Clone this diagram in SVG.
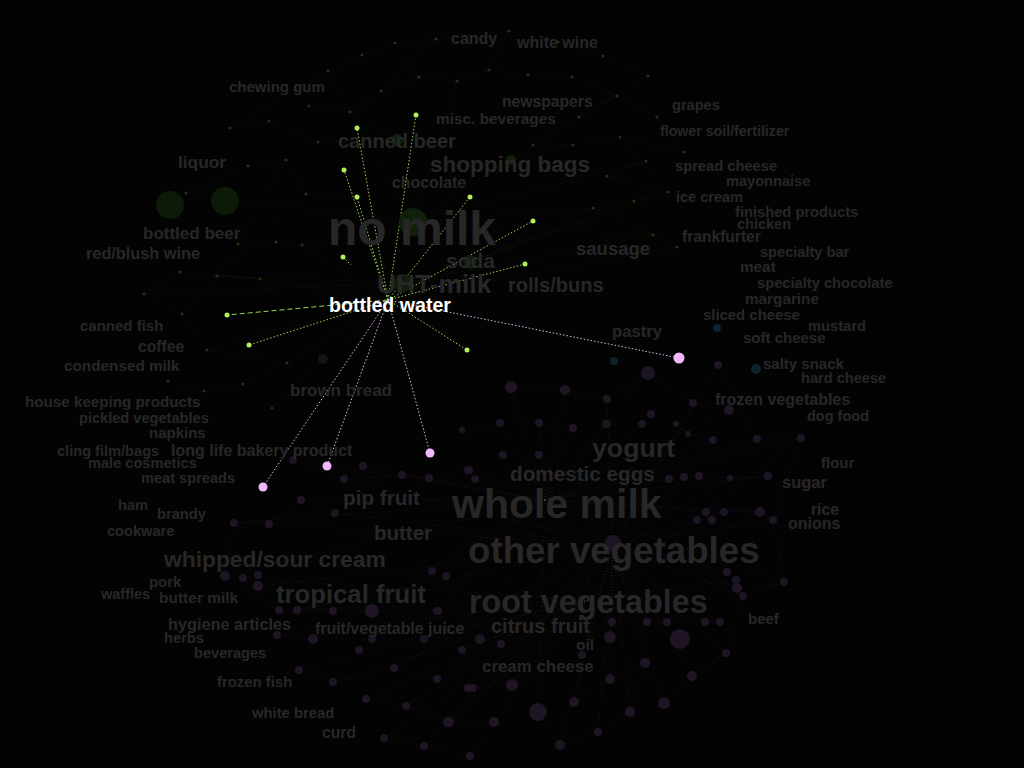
<svg xmlns="http://www.w3.org/2000/svg" width="1024" height="768" viewBox="0 0 1024 768">
<style>
.l{font-family:"Liberation Sans",Arial,sans-serif;font-weight:bold;fill:#272727}
.w{font-family:"Liberation Sans",Arial,sans-serif;font-weight:bold;fill:#ffffff}
.fg{stroke:#3f6a1e;stroke-width:0.6;stroke-dasharray:1 2;opacity:0.3;fill:none}
.fp{stroke:#6e4874;stroke-width:0.6;stroke-dasharray:1 2;opacity:0.3;fill:none}
.hg{stroke:#9cd456;stroke-width:1;stroke-dasharray:1.5 2;fill:none}
.hp{stroke:#e2b4ee;stroke-width:1;stroke-dasharray:1.5 2;fill:none}
.dg{fill:#1f3510}
.dp{fill:#1f1424}
.db{fill:#0c232b}
.bg{fill:#b2f05a}
.bp{fill:#f2b8fb}
</style>
<rect width="1024" height="768" fill="#030303"/>
<g id="connectors">
<g id="faint-green">
<path class="fg" d="M395,43L436,39L509,31L558,42L603,56L648,76M362,55L395,43L419,77L457,81L489,70L509,31M328,71L362,55M489,70L528,75L572,77L617,96L657,117M381,91L419,77M309,106L350,112L397,140L413,222M230,128L269,121L318,142L397,140M248,166L286,160L306,194L357,197M186,193L248,166M579,117L533,145L573,145L620,137L684,152M646,161L607,176L668,192L634,201L593,208L653,235L677,247M511,160L573,145M238,244L276,242L302,245L388,300M217,276L260,279L180,272L144,294L182,314L207,350L287,363M168,381L204,391L243,384L272,408L388,300M413,222L511,160M413,222L593,208M413,222L302,245M413,222L186,193M413,222L457,81M413,222L328,71M413,222L646,161M413,222L653,235M388,300L260,279M388,300L207,350M388,300L593,208M388,300L677,247M328,71L230,128M286,160L217,276M350,112L381,91M617,96L579,117L511,160M419,77L350,112M657,117L684,152M306,194L182,314M620,137L668,192M243,384L287,363L388,300M470,262L634,201M470,262L668,192M403,283L653,235M403,283L217,276M403,283L144,294M436,39L381,91M648,76L579,117"/>
</g>
<g id="faint-pink">
<path class="fp" d="M545,500L500,423M545,500L539,423M545,500L573,428M545,500L462,430M545,500L607,424M545,500L642,424M545,500L713,440M545,500L757,439M545,500L801,438M545,500L468,470M545,500L669,479M545,500L768,476M545,500L706,512M545,500L760,512M545,500L446,576M545,500L737,588M545,500L784,582M545,500L612,622M545,500L680,639M545,500L480,639M545,500L538,712M545,500L437,611M545,500L293,460M545,500L363,466M545,500L402,475M545,500L301,500M545,500L234,523M545,500L225,576M545,500L372,611M545,500L313,639M545,500L648,373M545,500L511,387M545,500L729,410M545,500L565,390"/>
<path class="fp" d="M613,545L503,455M613,545L539,455M613,545L475,479M613,545L684,477M613,545L699,476M613,545L730,478M613,545L724,512M613,545L773,520M613,545L727,572M613,545L743,596M613,545L647,622M613,545L705,622M613,545L610,637M613,545L501,644M613,545L582,655M613,545L645,663M613,545L726,653M613,545L692,676M613,545L610,679M613,545L512,685M613,545L574,702M613,545L630,712M613,545L664,703M613,545L494,722M613,545L598,732M613,545L560,745M613,545L344,479M613,545L335,513M613,545L269,524M613,545L258,586M613,545L297,610M613,545L424,639M613,545L394,668M613,545L449,722M613,545L693,403M613,545L607,399M613,545L718,365"/>
<path class="fp" d="M588,600L462,650M588,600L473,688M588,600L437,679M588,600L448,722M588,600L359,650M588,600L333,682M588,600L366,699M588,600L406,706M588,600L384,738M588,600L424,746M588,600L470,756M588,600L299,670M588,600L277,635M588,600L279,610M588,600L243,578M588,600L736,580M588,600L667,622M588,600L720,622M588,600L801,438M588,600L760,512"/>
<path class="fp" d="M293,460L344,479L402,475L429,478L469,470M301,500L335,513M234,523L269,524L301,500M225,576L243,578L258,575L258,586M279,610L297,610L333,611L372,611L438,611M277,635L313,639L372,639L424,639M299,670L333,682L394,668L437,679M366,699L406,706L449,722L494,722M384,738L424,746L470,756M607,399L648,373L693,403L729,410M606,424L642,424L676,424L688,434L713,440M757,439L801,438M669,479L684,477L699,476L730,478L768,476M706,512L724,512L760,512L773,520M727,572L736,580L737,588L743,596L784,582M612,622L647,622L667,622L705,622L720,622M692,676L726,653M574,702L610,679L645,663L630,712L598,732L560,745L538,712M801,438L773,520L784,582L743,596L726,653L692,676L664,703M234,523L225,576L279,610M512,685L473,688M462,430L500,423L539,423L573,428M511,387L565,390L607,399M718,365L757,439"/>
</g>
<g id="highlight">
<path class="hg" d="M388,300L357,128M388,300L416,115M388,300L344,170M388,300L357,197M388,300L470,197M388,300L533,221M388,300L525,264M388,300L249,345M388,300L467,350M343,257L351,265"/>
<path class="hg" d="M388,300L227,315" style="stroke-dasharray:5 3"/>
<path class="hp" d="M388,300L679,358M388,300L430,453M388,300L327,466M388,300L263,487"/>
</g>
</g>
<g id="dots">
<circle cx="170" cy="205" r="14" fill="#0d1a08"/>
<circle cx="225" cy="201" r="14" fill="#0d1a08"/>
<circle cx="413" cy="222" r="14" fill="#11200b"/>
<circle cx="403" cy="283" r="9" fill="#11200b"/>
<circle cx="470" cy="262" r="7" fill="#11200b"/>
<circle cx="397" cy="140" r="6" fill="#11200b"/>
<circle cx="511" cy="160" r="5" fill="#11200b"/>
<g class="dg">
<circle cx="395" cy="43" r="1.6"/><circle cx="436" cy="39" r="1.6"/><circle cx="362" cy="55" r="1.6"/><circle cx="328" cy="71" r="1.6"/><circle cx="419" cy="77" r="1.6"/><circle cx="457" cy="81" r="1.6"/><circle cx="489" cy="70" r="1.6"/><circle cx="381" cy="91" r="1.6"/><circle cx="309" cy="106" r="1.6"/><circle cx="350" cy="112" r="1.6"/><circle cx="230" cy="128" r="1.6"/><circle cx="269" cy="121" r="1.6"/><circle cx="318" cy="142" r="1.6"/><circle cx="286" cy="160" r="1.6"/><circle cx="248" cy="166" r="1.6"/><circle cx="186" cy="193" r="1.6"/><circle cx="306" cy="194" r="1.6"/><circle cx="509" cy="31" r="1.6"/><circle cx="558" cy="42" r="1.6"/><circle cx="603" cy="56" r="1.6"/><circle cx="648" cy="76" r="1.6"/><circle cx="528" cy="75" r="1.6"/><circle cx="572" cy="77" r="1.6"/><circle cx="617" cy="96" r="1.6"/><circle cx="657" cy="117" r="1.6"/><circle cx="579" cy="117" r="1.6"/><circle cx="533" cy="145" r="1.6"/><circle cx="573" cy="145" r="1.6"/><circle cx="620" cy="137" r="1.6"/><circle cx="684" cy="152" r="1.6"/><circle cx="646" cy="161" r="1.6"/><circle cx="607" cy="176" r="1.6"/><circle cx="668" cy="192" r="1.6"/><circle cx="634" cy="201" r="1.6"/><circle cx="593" cy="208" r="1.6"/><circle cx="653" cy="235" r="1.6"/><circle cx="677" cy="247" r="1.6"/><circle cx="238" cy="244" r="1.6"/><circle cx="276" cy="242" r="1.6"/><circle cx="302" cy="245" r="1.6"/><circle cx="217" cy="276" r="1.6"/><circle cx="260" cy="279" r="1.6"/><circle cx="180" cy="272" r="1.6"/><circle cx="144" cy="294" r="1.6"/><circle cx="182" cy="314" r="1.6"/><circle cx="207" cy="350" r="1.6"/><circle cx="287" cy="363" r="1.6"/><circle cx="168" cy="381" r="1.6"/><circle cx="204" cy="391" r="1.6"/><circle cx="243" cy="384" r="1.6"/><circle cx="272" cy="408" r="1.6"/>
</g>
<circle cx="323" cy="359" r="5" fill="#151515"/>
<g class="db"><circle cx="717" cy="328" r="4"/><circle cx="614" cy="361" r="4"/><circle cx="756" cy="369" r="5"/></g>
<g class="dp">
<circle cx="500" cy="423" r="4"/><circle cx="539" cy="423" r="4"/><circle cx="573" cy="428" r="4"/><circle cx="462" cy="430" r="3"/><circle cx="607" cy="424" r="4"/><circle cx="642" cy="424" r="4"/><circle cx="651" cy="414" r="4"/><circle cx="676" cy="424" r="3"/><circle cx="688" cy="434" r="3"/><circle cx="713" cy="440" r="4"/><circle cx="757" cy="439" r="4"/><circle cx="801" cy="438" r="4"/><circle cx="503" cy="455" r="4"/><circle cx="539" cy="455" r="4"/><circle cx="468" cy="470" r="4"/><circle cx="475" cy="479" r="4"/><circle cx="669" cy="479" r="4"/><circle cx="684" cy="477" r="4"/><circle cx="699" cy="476" r="4"/><circle cx="730" cy="478" r="3"/><circle cx="768" cy="476" r="4"/><circle cx="706" cy="512" r="4"/><circle cx="724" cy="512" r="4"/><circle cx="760" cy="512" r="5"/><circle cx="773" cy="520" r="4"/><circle cx="697" cy="520" r="4"/><circle cx="712" cy="520" r="4"/><circle cx="613" cy="543" r="8"/><circle cx="446" cy="576" r="4"/><circle cx="727" cy="572" r="4"/><circle cx="736" cy="580" r="4"/><circle cx="737" cy="588" r="5"/><circle cx="743" cy="596" r="4"/><circle cx="784" cy="582" r="4"/><circle cx="612" cy="622" r="4"/><circle cx="647" cy="622" r="4"/><circle cx="667" cy="622" r="4"/><circle cx="705" cy="622" r="4"/><circle cx="720" cy="622" r="4"/><circle cx="680" cy="639" r="10"/><circle cx="610" cy="637" r="6"/><circle cx="480" cy="639" r="5"/><circle cx="501" cy="644" r="4"/><circle cx="462" cy="650" r="4"/><circle cx="582" cy="655" r="4"/><circle cx="645" cy="663" r="5"/><circle cx="726" cy="653" r="4"/><circle cx="692" cy="676" r="5"/><circle cx="610" cy="679" r="5"/><circle cx="512" cy="685" r="6"/><circle cx="473" cy="688" r="4"/><circle cx="437" cy="679" r="4"/><circle cx="574" cy="702" r="5"/><circle cx="538" cy="712" r="9"/><circle cx="630" cy="712" r="5"/><circle cx="664" cy="703" r="6"/><circle cx="448" cy="722" r="5"/><circle cx="494" cy="722" r="5"/><circle cx="598" cy="732" r="4"/><circle cx="560" cy="745" r="5"/><circle cx="437" cy="611" r="4"/><circle cx="293" cy="460" r="4"/><circle cx="363" cy="466" r="4"/><circle cx="344" cy="479" r="4"/><circle cx="402" cy="475" r="4"/><circle cx="429" cy="478" r="4"/><circle cx="469" cy="470" r="4"/><circle cx="301" cy="500" r="4"/><circle cx="335" cy="513" r="4"/><circle cx="234" cy="523" r="4"/><circle cx="269" cy="524" r="4"/><circle cx="225" cy="576" r="5"/><circle cx="243" cy="578" r="4"/><circle cx="258" cy="575" r="4"/><circle cx="258" cy="586" r="5"/><circle cx="279" cy="610" r="4"/><circle cx="297" cy="610" r="4"/><circle cx="333" cy="611" r="4"/><circle cx="372" cy="611" r="7"/><circle cx="438" cy="611" r="4"/><circle cx="277" cy="635" r="4"/><circle cx="313" cy="639" r="5"/><circle cx="372" cy="639" r="4"/><circle cx="424" cy="639" r="4"/><circle cx="359" cy="650" r="4"/><circle cx="299" cy="670" r="4"/><circle cx="333" cy="682" r="4"/><circle cx="394" cy="668" r="4"/><circle cx="366" cy="699" r="4"/><circle cx="406" cy="706" r="4"/><circle cx="449" cy="722" r="5"/><circle cx="384" cy="738" r="4"/><circle cx="424" cy="746" r="4"/><circle cx="470" cy="756" r="4"/><circle cx="432" cy="571" r="4"/><circle cx="468" cy="688" r="4"/><circle cx="648" cy="373" r="7"/><circle cx="607" cy="399" r="4"/><circle cx="606" cy="424" r="4"/><circle cx="693" cy="403" r="4"/><circle cx="729" cy="410" r="5"/><circle cx="718" cy="365" r="4"/><circle cx="511" cy="387" r="6"/><circle cx="565" cy="390" r="5"/>
</g>
<g class="bg">
<circle cx="357" cy="128" r="2.5"/><circle cx="416" cy="115" r="2.5"/><circle cx="344" cy="170" r="2.5"/><circle cx="357" cy="197" r="2.5"/><circle cx="470" cy="197" r="2.5"/><circle cx="533" cy="221" r="2.5"/><circle cx="525" cy="264" r="2.5"/><circle cx="343" cy="257" r="2.5"/><circle cx="227" cy="315" r="2.5"/><circle cx="249" cy="345" r="2.5"/><circle cx="467" cy="350" r="2.5"/>
</g>
<g class="bp">
<circle cx="679" cy="358" r="5.5"/><circle cx="430" cy="453" r="4.5"/><circle cx="327" cy="466" r="4.5"/><circle cx="263" cy="487" r="4.5"/>
</g>
</g>
<g id="n-candy"><text class="l" x="451" y="44" font-size="16">candy</text></g>
<g id="n-white-wine"><text class="l" x="517" y="48" font-size="16">white wine</text></g>
<g id="n-chewing-gum"><text class="l" x="229" y="92" font-size="15">chewing gum</text></g>
<g id="n-newspapers"><text class="l" x="502" y="107" font-size="15.7">newspapers</text></g>
<g id="n-misc-beverages"><text class="l" x="436" y="124" font-size="15.4">misc. beverages</text></g>
<g id="n-grapes"><text class="l" x="672" y="110" font-size="14.6">grapes</text></g>
<g id="n-flower-soil"><text class="l" x="660" y="136" font-size="14.2">flower soil/fertilizer</text></g>
<g id="n-canned-beer"><text class="l" x="338" y="148" font-size="20">canned beer</text></g>
<g id="n-liquor"><text class="l" x="178" y="168" font-size="17.3">liquor</text></g>
<g id="n-shopping-bags"><text class="l" x="430" y="172" font-size="22.5">shopping bags</text></g>
<g id="n-chocolate"><text class="l" x="392" y="188" font-size="15.9">chocolate</text></g>
<g id="n-spread-cheese"><text class="l" x="675" y="171" font-size="14.7">spread cheese</text></g>
<g id="n-mayonnaise"><text class="l" x="726" y="186" font-size="14.6">mayonnaise</text></g>
<g id="n-ice-cream"><text class="l" x="676" y="202" font-size="14.5">ice cream</text></g>
<g id="n-finished-products"><text class="l" x="735" y="217" font-size="14.7">finished products</text></g>
<g id="n-chicken"><text class="l" x="737" y="229" font-size="14.5">chicken</text></g>
<g id="n-frankfurter"><text class="l" x="682" y="242" font-size="15.6">frankfurter</text></g>
<g id="n-sausage"><text class="l" x="576" y="255" font-size="18.5">sausage</text></g>
<g id="n-specialty-bar"><text class="l" x="760" y="257" font-size="14.6">specialty bar</text></g>
<g id="n-no-milk"><text class="l" x="328" y="245" font-size="48">no milk</text></g>
<g id="n-bottled-beer"><text class="l" x="143" y="239" font-size="17">bottled beer</text></g>
<g id="n-red-blush-wine"><text class="l" x="86" y="259" font-size="16.3">red/blush wine</text></g>
<g id="n-soda"><text class="l" x="446" y="268" font-size="21">soda</text></g>
<g id="n-meat"><text class="l" x="740" y="272" font-size="15.3">meat</text></g>
<g id="n-uht-milk"><text class="l" x="377" y="293" font-size="26.4">UHT-milk</text></g>
<g id="n-rolls-buns"><text class="l" x="508" y="292" font-size="20">rolls/buns</text></g>
<g id="n-specialty-chocolate"><text class="l" x="757" y="288" font-size="14.7">specialty chocolate</text></g>
<g id="n-margarine"><text class="l" x="745" y="304" font-size="15.3">margarine</text></g>
<g id="n-sliced-cheese"><text class="l" x="703" y="320" font-size="14.9">sliced cheese</text></g>
<g id="n-canned-fish"><text class="l" x="80" y="331" font-size="15">canned fish</text></g>
<g id="n-mustard"><text class="l" x="808" y="331" font-size="14.7">mustard</text></g>
<g id="n-pastry"><text class="l" x="612" y="337" font-size="16.7">pastry</text></g>
<g id="n-soft-cheese"><text class="l" x="743" y="343" font-size="15">soft cheese</text></g>
<g id="n-coffee"><text class="l" x="138" y="352" font-size="15.7">coffee</text></g>
<g id="n-condensed-milk"><text class="l" x="64" y="371" font-size="15.3">condensed milk</text></g>
<g id="n-salty-snack"><text class="l" x="763" y="369" font-size="15">salty snack</text></g>
<g id="n-hard-cheese"><text class="l" x="801" y="383" font-size="14.6">hard cheese</text></g>
<g id="n-brown-bread"><text class="l" x="290" y="396" font-size="17">brown bread</text></g>
<g id="n-frozen-vegetables"><text class="l" x="715" y="405" font-size="16">frozen vegetables</text></g>
<g id="n-house-keeping"><text class="l" x="25" y="407" font-size="15.2">house keeping products</text></g>
<g id="n-pickled-vegetables"><text class="l" x="79" y="423" font-size="14.6">pickled vegetables</text></g>
<g id="n-dog-food"><text class="l" x="807" y="421" font-size="14.5">dog food</text></g>
<g id="n-napkins"><text class="l" x="149" y="438" font-size="15">napkins</text></g>
<g id="n-yogurt"><text class="l" x="592" y="457" font-size="26.7">yogurt</text></g>
<g id="n-cling-film"><text class="l" x="57" y="456" font-size="14.6">cling film/bags</text></g>
<g id="n-long-life"><text class="l" x="171" y="456" font-size="16">long life bakery product</text></g>
<g id="n-male-cosmetics"><text class="l" x="88" y="468" font-size="14.6">male cosmetics</text></g>
<g id="n-flour"><text class="l" x="821" y="468" font-size="15">flour</text></g>
<g id="n-domestic-eggs"><text class="l" x="510" y="481" font-size="20.7">domestic eggs</text></g>
<g id="n-meat-spreads"><text class="l" x="141" y="483" font-size="14.6">meat spreads</text></g>
<g id="n-sugar"><text class="l" x="782" y="488" font-size="16.5">sugar</text></g>
<g id="n-whole-milk"><text class="l" x="452" y="518" font-size="41">whole milk</text></g>
<g id="n-pip-fruit"><text class="l" x="343" y="505" font-size="20.7">pip fruit</text></g>
<g id="n-ham"><text class="l" x="118" y="510" font-size="14.6">ham</text></g>
<g id="n-brandy"><text class="l" x="157" y="519" font-size="14.7">brandy</text></g>
<g id="n-rice"><text class="l" x="811" y="515" font-size="15.7">rice</text></g>
<g id="n-onions"><text class="l" x="788" y="529" font-size="16">onions</text></g>
<g id="n-cookware"><text class="l" x="107" y="536" font-size="14.6">cookware</text></g>
<g id="n-butter"><text class="l" x="374" y="540" font-size="20.5">butter</text></g>
<g id="n-whipped-sour-cream"><text class="l" x="164" y="567" font-size="22.8">whipped/sour cream</text></g>
<g id="n-other-vegetables"><text class="l" x="468" y="563" font-size="36.7">other vegetables</text></g>
<g id="n-pork"><text class="l" x="149" y="587" font-size="14.9">pork</text></g>
<g id="n-waffles"><text class="l" x="101" y="599" font-size="14.5">waffles</text></g>
<g id="n-butter-milk"><text class="l" x="159" y="603" font-size="15.5">butter milk</text></g>
<g id="n-tropical-fruit"><text class="l" x="276" y="603" font-size="25.7">tropical fruit</text></g>
<g id="n-root-vegetables"><text class="l" x="469" y="613" font-size="32.3">root vegetables</text></g>
<g id="n-beef"><text class="l" x="748" y="624" font-size="15">beef</text></g>
<g id="n-hygiene-articles"><text class="l" x="168" y="630" font-size="16.3">hygiene articles</text></g>
<g id="n-fruit-vegetable-juice"><text class="l" x="315" y="634" font-size="15.9">fruit/vegetable juice</text></g>
<g id="n-citrus-fruit"><text class="l" x="491" y="633" font-size="20">citrus fruit</text></g>
<g id="n-herbs"><text class="l" x="164" y="643" font-size="14.7">herbs</text></g>
<g id="n-oil"><text class="l" x="576" y="650" font-size="15.4">oil</text></g>
<g id="n-beverages"><text class="l" x="194" y="658" font-size="14.6">beverages</text></g>
<g id="n-cream-cheese"><text class="l" x="482" y="672" font-size="16.9">cream cheese</text></g>
<g id="n-frozen-fish"><text class="l" x="217" y="687" font-size="14.9">frozen fish</text></g>
<g id="n-white-bread"><text class="l" x="252" y="718" font-size="14.8">white bread</text></g>
<g id="n-curd"><text class="l" x="322" y="738" font-size="15.7">curd</text></g>
<g id="n-bottled-water"><text class="w" x="329" y="312" font-size="19.6">bottled water</text></g>
</svg>
